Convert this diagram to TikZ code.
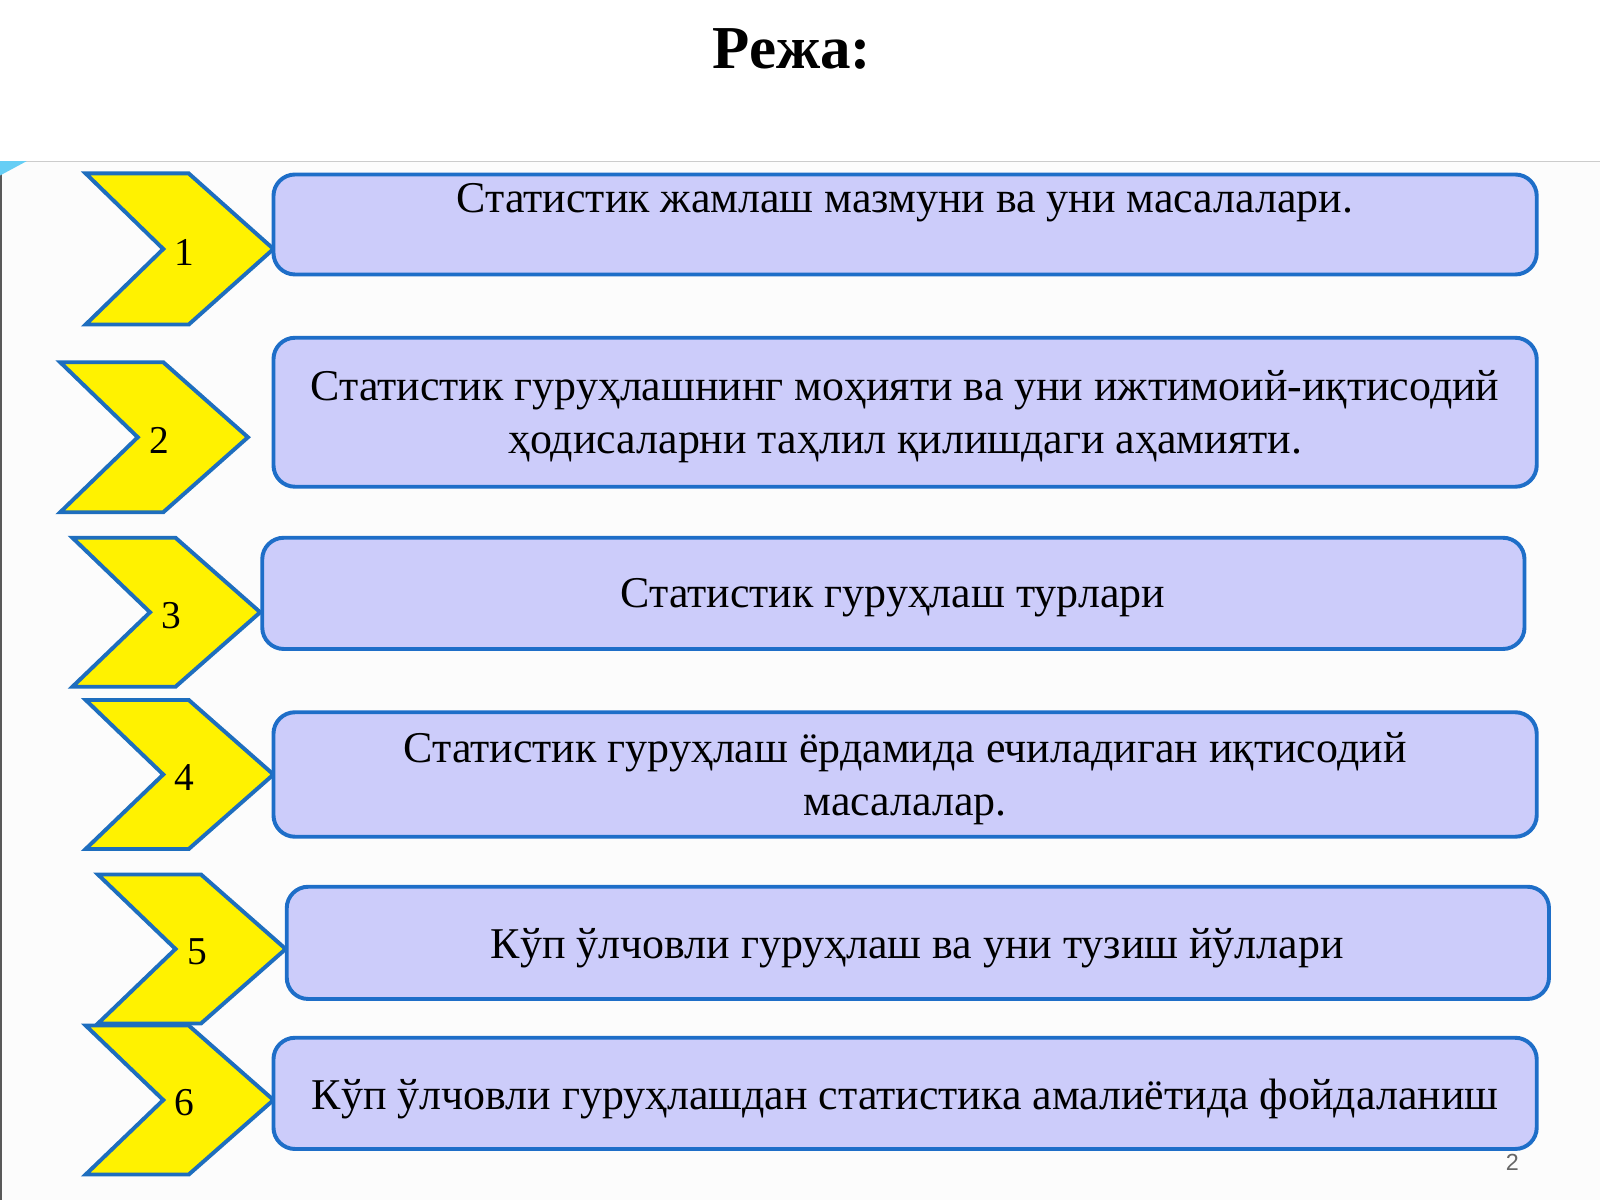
\documentclass[tikz,border=0pt]{standalone}
\usepackage{fontspec}
\setmainfont{Liberation Serif}
\newfontfamily\pgnum{Liberation Sans}
\definecolor{chevline}{RGB}{30,110,190}
\definecolor{boxfill}{RGB}{204,204,250}
\definecolor{boxline}{RGB}{30,110,200}
\definecolor{bgpage}{RGB}{252,252,252}
\begin{document}
\begin{tikzpicture}[x=0.02cm,y=-0.02cm,
  chev/.style={fill=yellow,draw=chevline,line width=2.2pt,line join=miter},
  box/.style={fill=boxfill,draw=boxline,line width=2.2pt,rounded corners=12pt},
  txt/.style={font=\fontsize{24.5}{29.5}\selectfont,align=center},
  num/.style={font=\fontsize{22}{24}\selectfont}]
\useasboundingbox (0,0) rectangle (1568,1176);
\fill[white] (0,0) rectangle (1568,1176);
\fill[bgpage] (0,158) rectangle (1568,1176);
\draw[gray!40,line width=0.8pt] (0,158) -- (1568,158);
\draw[gray!70!black,line width=1pt] (1,158) -- (1,1176);
\fill[cyan!60] (0,158) -- (26,158) -- (0,172) -- cycle;
\node[font=\bfseries\fontsize{34}{38}\selectfont] (title) at (776,48) {Режа:};
\foreach \i/\l/\t/\b in {1/84/170/318,2/59/355/502,3/71/527/673,4/84/686/832,5/96/857/1003,6/84/1005/1151}{
  \pgfmathsetmacro{\m}{(\t+\b)/2}
  \draw[chev] (\l,\t) -- (\l+101,\t) -- (\l+184,\m) -- (\l+101,\b) -- (\l,\b) -- (\l+76,\m) -- cycle;
  \node[num] (n\i) at (\l+97,\m+3) {\i};
}
\draw[box] (268,171) rectangle (1506,269);
\node[txt] (t1) at (887,199) {Статистик жамлаш мазмуни ва уни масалалари.};
\draw[box] (268,331) rectangle (1506,477);
\node[txt] (t2) at (887,408) {Статистик гуруҳлашнинг моҳияти ва уни ижтимоий-иқтисодий\\ ҳодисаларни таҳлил қилишдаги аҳамияти.};
\draw[box] (257,527) rectangle (1494,636);
\node[txt] (t3) at (875,586) {Статистик гуруҳлаш турлари};
\draw[box] (268,698) rectangle (1506,820);
\node[txt] (t4) at (887,763) {Статистик гуруҳлаш ёрдамида ечиладиган иқтисодий\\ масалалар.};
\draw[box] (281,869) rectangle (1518,979);
\node[txt] (t5) at (899,929) {Кўп ўлчовли гуруҳлаш ва уни тузиш йўллари};
\draw[box] (268,1017) rectangle (1506,1126);
\node[txt] (t6) at (887,1077) {Кўп ўлчовли гуруҳлашдан статистика амалиётида фойдаланиш};
\node[font=\pgnum\fontsize{13}{14}\selectfont,text=gray!80!black] (pg) at (1482,1139) {2};
\end{tikzpicture}
\end{document}
